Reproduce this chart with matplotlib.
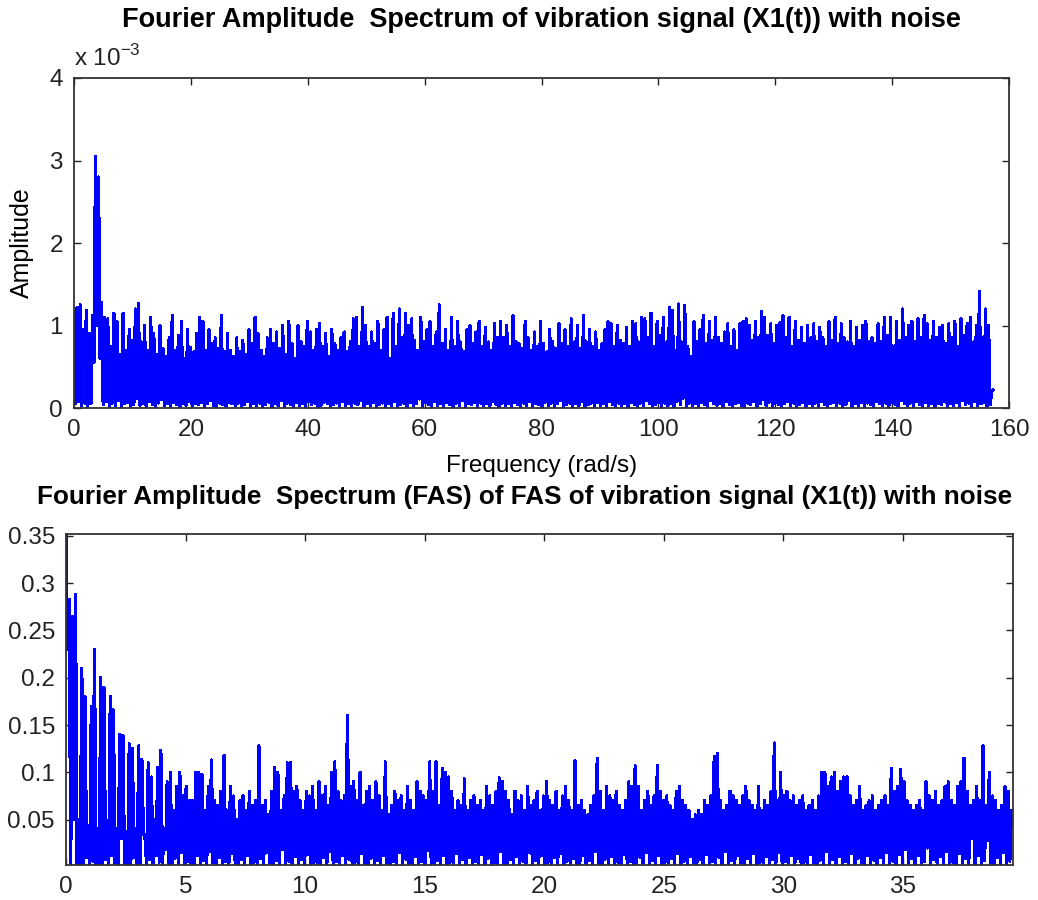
import numpy as np
import matplotlib
matplotlib.use("Agg")
import matplotlib.pyplot as plt
from matplotlib.ticker import FuncFormatter

plt.rcParams['font.family'] = ['Liberation Sans', 'DejaVu Sans']
plt.rcParams['path.simplify'] = False

# ---------- data (estimated) ----------
# top panel: FAS of the signal, spike tops and valley floors, units of 1e-3
top_fmax = 157.3
top_peaks = [
    1.15, 1.22, 1.25, 0.95, 1.18, 0.90, 1.12, 3.05, 2.80, 1.28, 1.10, 1.08, 0.75, 1.15, 1.05, 0.65, 1.15, 0.70, 0.95, 0.82,
    1.20, 1.27, 0.80, 1.00, 0.70, 1.10, 0.90, 0.65, 1.00, 0.72, 0.62, 0.85, 1.12, 0.70, 0.88, 1.05, 0.60, 0.95, 0.73, 0.68,
    0.90, 1.10, 1.05, 0.70, 0.95, 0.78, 0.85, 0.72, 1.12, 0.68, 0.90, 0.70, 0.62, 0.85, 0.68, 0.82, 0.65, 0.95, 0.78, 1.10,
    0.90, 0.70, 0.62, 0.85, 0.95, 0.78, 0.92, 0.72, 1.00, 0.65, 1.05, 0.78, 0.60, 1.00, 0.80, 0.75, 1.05, 0.92, 0.70, 0.95,
    1.02, 0.75, 0.90, 0.62, 0.95, 0.78, 0.70, 0.85, 0.92, 0.68, 0.80, 1.08, 1.10, 0.75, 1.22, 1.00, 0.75, 0.92, 0.78, 1.05,
    0.70, 0.95, 1.10, 0.60, 1.15, 0.75, 1.20, 0.85, 1.15, 1.00, 1.08, 0.82, 0.70, 1.10, 0.80, 0.95, 1.05, 0.75, 0.92, 1.25,
    0.78, 0.95, 0.70, 1.10, 0.75, 1.05, 0.80, 0.68, 0.95, 1.00, 0.78, 0.92, 1.05, 0.75, 0.98, 0.80, 0.70, 1.02, 0.85, 1.05,
    0.85, 1.00, 0.75, 1.12, 0.80, 0.78, 0.72, 1.05, 0.85, 0.70, 0.92, 0.75, 1.05, 0.78, 0.68, 0.95, 0.80, 0.72, 1.02, 0.78,
    0.95, 0.75, 1.08, 0.80, 1.00, 0.72, 1.12, 0.80, 0.95, 0.75, 0.92, 0.70, 0.78, 0.95, 1.05, 1.02, 0.75, 1.00, 0.82, 0.78,
    0.98, 0.75, 1.05, 1.02, 0.80, 1.10, 1.08, 0.85, 1.15, 0.75, 1.05, 0.88, 1.10, 0.80, 1.22, 1.18, 0.70, 1.26, 0.80, 1.24,
    0.75, 0.62, 1.05, 0.80, 0.95, 1.12, 0.78, 1.05, 0.82, 1.10, 0.85, 0.78, 0.92, 1.02, 0.75, 0.95, 0.70, 1.02, 1.05, 1.08,
    1.00, 0.82, 1.05, 0.85, 1.17, 1.10, 0.88, 1.02, 0.78, 1.00, 1.03, 1.12, 0.85, 1.10, 0.75, 1.05, 0.82, 0.98, 0.78, 1.00,
    0.85, 1.02, 0.80, 0.98, 0.85, 0.75, 1.05, 0.82, 1.10, 0.78, 1.02, 0.85, 0.80, 1.05, 0.75, 0.98, 0.82, 1.00, 1.05, 0.80,
    0.85, 0.78, 1.02, 0.80, 1.10, 0.88, 1.10, 0.75, 1.05, 0.82, 1.20, 0.85, 1.00, 1.05, 0.80, 1.08, 0.85, 1.12, 1.02, 0.82,
    1.05, 0.85, 0.98, 1.00, 0.78, 1.02, 0.85, 1.05, 0.75, 1.08, 0.88, 1.02, 1.10, 0.80, 1.00, 1.41, 0.85, 1.20, 1.00, 0.20,
]
top_floor = [
    0.05, 0.08, 0.03, 0.06, 0.02, 0.05, 0.55, 1.00, 0.60, 0.04, 0.08, 0.02, 0.06, 0.03, 0.09, 0.01, 0.05, 0.07, 0.02, 0.04,
    0.12, 0.03, 0.06, 0.02, 0.08, 0.04, 0.01, 0.06, 0.10, 0.03, 0.05, 0.02, 0.07, 0.04, 0.01, 0.06, 0.03, 0.08, 0.02, 0.05,
    0.04, 0.07, 0.02, 0.05, 0.09, 0.03, 0.01, 0.06, 0.04, 0.02, 0.07, 0.05, 0.03, 0.06, 0.01, 0.04, 0.08, 0.02, 0.05, 0.03,
    0.06, 0.02, 0.04, 0.07, 0.01, 0.05, 0.03, 0.09, 0.02, 0.06, 0.04, 0.01, 0.07, 0.03, 0.05, 0.02, 0.08, 0.04, 0.06, 0.01,
    0.03, 0.07, 0.05, 0.02, 0.04, 0.06, 0.01, 0.08, 0.03, 0.05, 0.02, 0.06, 0.04, 0.09, 0.01, 0.05, 0.03, 0.07, 0.02, 0.04,
    0.06, 0.01, 0.05, 0.03, 0.08, 0.02, 0.04, 0.06, 0.01, 0.07, 0.03, 0.05, 0.11, 0.02, 0.06, 0.04, 0.01, 0.08, 0.03, 0.05,
    0.02, 0.07, 0.04, 0.01, 0.06, 0.03, 0.09, 0.02, 0.05, 0.04, 0.07, 0.01, 0.06, 0.03, 0.05, 0.02, 0.08, 0.04, 0.01, 0.06,
    0.03, 0.05, 0.02, 0.07, 0.04, 0.01, 0.06, 0.03, 0.08, 0.02, 0.05, 0.04, 0.01, 0.07, 0.03, 0.06, 0.02, 0.05, 0.09, 0.01,
    0.04, 0.06, 0.02, 0.05, 0.03, 0.08, 0.01, 0.04, 0.06, 0.02, 0.07, 0.03, 0.05, 0.01, 0.08, 0.04, 0.02, 0.06, 0.03, 0.05,
    0.01, 0.07, 0.04, 0.02, 0.06, 0.03, 0.09, 0.05, 0.01, 0.04, 0.07, 0.02, 0.06, 0.03, 0.05, 0.01, 0.08, 0.04, 0.12, 0.02,
    0.06, 0.03, 0.05, 0.01, 0.07, 0.04, 0.02, 0.09, 0.05, 0.03, 0.06, 0.01, 0.08, 0.04, 0.02, 0.05, 0.07, 0.03, 0.01, 0.06,
    0.04, 0.08, 0.02, 0.05, 0.10, 0.03, 0.07, 0.01, 0.06, 0.04, 0.02, 0.05, 0.08, 0.03, 0.06, 0.01, 0.04, 0.07, 0.02, 0.05,
    0.03, 0.06, 0.01, 0.08, 0.04, 0.02, 0.05, 0.07, 0.03, 0.06, 0.01, 0.04, 0.09, 0.02, 0.05, 0.03, 0.07, 0.01, 0.06, 0.04,
    0.02, 0.08, 0.05, 0.03, 0.06, 0.01, 0.07, 0.04, 0.02, 0.09, 0.05, 0.03, 0.06, 0.01, 0.08, 0.04, 0.02, 0.07, 0.03, 0.05,
    0.01, 0.06, 0.04, 0.08, 0.02, 0.05, 0.03, 0.07, 0.01, 0.09, 0.04, 0.06, 0.02, 0.08, 0.03, 0.05, 0.07, 0.02, 0.04, 0.22,
]

# bottom panel: FAS of the FAS
bot_fmax = 39.6
bot_peaks = [
    0.352, 0.283, 0.265, 0.288, 0.050, 0.210, 0.180, 0.030, 0.170, 0.230, 0.040, 0.200, 0.190, 0.030, 0.180, 0.166, 0.040, 0.140, 0.139, 0.030,
    0.130, 0.125, 0.040, 0.128, 0.113, 0.030, 0.110, 0.095, 0.050, 0.105, 0.123, 0.040, 0.090, 0.100, 0.060, 0.085, 0.100, 0.075, 0.085, 0.070,
    0.070, 0.100, 0.100, 0.098, 0.060, 0.085, 0.113, 0.070, 0.065, 0.080, 0.118, 0.060, 0.085, 0.075, 0.050, 0.070, 0.075, 0.060, 0.080, 0.065,
    0.070, 0.128, 0.065, 0.070, 0.055, 0.080, 0.105, 0.100, 0.060, 0.075, 0.110, 0.110, 0.080, 0.085, 0.070, 0.060, 0.080, 0.075, 0.085, 0.060,
    0.090, 0.075, 0.085, 0.065, 0.100, 0.111, 0.080, 0.070, 0.075, 0.160, 0.085, 0.090, 0.070, 0.100, 0.065, 0.080, 0.085, 0.070, 0.090, 0.075,
    0.060, 0.111, 0.055, 0.065, 0.080, 0.070, 0.075, 0.060, 0.085, 0.070, 0.060, 0.090, 0.080, 0.075, 0.070, 0.111, 0.080, 0.111, 0.065, 0.104,
    0.100, 0.095, 0.080, 0.060, 0.070, 0.065, 0.093, 0.060, 0.070, 0.075, 0.065, 0.070, 0.060, 0.085, 0.075, 0.065, 0.080, 0.094, 0.090, 0.080,
    0.070, 0.055, 0.080, 0.070, 0.075, 0.060, 0.085, 0.065, 0.070, 0.080, 0.060, 0.075, 0.090, 0.070, 0.065, 0.080, 0.060, 0.075, 0.085, 0.070,
    0.060, 0.112, 0.065, 0.070, 0.060, 0.055, 0.065, 0.075, 0.115, 0.080, 0.060, 0.085, 0.075, 0.070, 0.080, 0.065, 0.060, 0.070, 0.090, 0.085,
    0.107, 0.085, 0.060, 0.070, 0.080, 0.065, 0.075, 0.107, 0.080, 0.070, 0.075, 0.065, 0.060, 0.080, 0.085, 0.070, 0.065, 0.060, 0.050, 0.055,
    0.060, 0.055, 0.070, 0.065, 0.075, 0.117, 0.120, 0.070, 0.060, 0.065, 0.080, 0.075, 0.070, 0.065, 0.075, 0.085, 0.070, 0.065, 0.060, 0.085,
    0.060, 0.070, 0.065, 0.080, 0.131, 0.070, 0.100, 0.075, 0.080, 0.070, 0.075, 0.065, 0.070, 0.075, 0.060, 0.065, 0.070, 0.060, 0.075, 0.100,
    0.100, 0.085, 0.095, 0.100, 0.080, 0.090, 0.095, 0.095, 0.075, 0.065, 0.070, 0.085, 0.060, 0.065, 0.070, 0.075, 0.060, 0.065, 0.070, 0.075,
    0.065, 0.104, 0.080, 0.085, 0.103, 0.090, 0.070, 0.065, 0.060, 0.065, 0.070, 0.060, 0.090, 0.075, 0.070, 0.080, 0.065, 0.070, 0.085, 0.090,
    0.070, 0.065, 0.085, 0.090, 0.115, 0.080, 0.065, 0.070, 0.085, 0.070, 0.128, 0.065, 0.100, 0.075, 0.070, 0.060, 0.065, 0.085, 0.080, 0.060,
]
bot_floor = [
    0.230, 0.004, 0.050, 0.003, 0.002, 0.002, 0.010, 0.002, 0.006, 0.002, 0.002, 0.003, 0.008, 0.002, 0.012, 0.004, 0.002, 0.030, 0.003, 0.002,
    0.002, 0.010, 0.002, 0.002, 0.035, 0.002, 0.008, 0.002, 0.012, 0.005, 0.002, 0.018, 0.004, 0.002, 0.009, 0.003, 0.015, 0.002, 0.006, 0.004,
    0.002, 0.012, 0.003, 0.007, 0.002, 0.016, 0.004, 0.002, 0.010, 0.003, 0.006, 0.002, 0.014, 0.004, 0.002, 0.008, 0.003, 0.012, 0.002, 0.005,
    0.003, 0.009, 0.002, 0.015, 0.004, 0.002, 0.007, 0.003, 0.018, 0.002, 0.006, 0.004, 0.011, 0.002, 0.008, 0.003, 0.013, 0.002, 0.005, 0.004,
    0.002, 0.010, 0.003, 0.016, 0.002, 0.006, 0.004, 0.012, 0.002, 0.008, 0.003, 0.005, 0.002, 0.014, 0.004, 0.002, 0.009, 0.003, 0.007, 0.002,
    0.012, 0.004, 0.002, 0.006, 0.003, 0.015, 0.002, 0.008, 0.004, 0.002, 0.011, 0.003, 0.006, 0.002, 0.017, 0.004, 0.002, 0.007, 0.003, 0.012,
    0.002, 0.005, 0.004, 0.014, 0.002, 0.008, 0.003, 0.010, 0.002, 0.006, 0.004, 0.013, 0.002, 0.009, 0.003, 0.005, 0.002, 0.016, 0.004, 0.002,
    0.008, 0.003, 0.011, 0.002, 0.006, 0.004, 0.015, 0.002, 0.007, 0.003, 0.012, 0.002, 0.005, 0.004, 0.010, 0.002, 0.014, 0.003, 0.006, 0.002,
    0.009, 0.004, 0.002, 0.012, 0.003, 0.007, 0.002, 0.016, 0.004, 0.002, 0.008, 0.003, 0.011, 0.002, 0.005, 0.004, 0.013, 0.002, 0.006, 0.003,
    0.002, 0.010, 0.004, 0.015, 0.002, 0.007, 0.003, 0.012, 0.002, 0.005, 0.004, 0.009, 0.002, 0.014, 0.003, 0.006, 0.002, 0.011, 0.004, 0.002,
    0.008, 0.003, 0.013, 0.002, 0.006, 0.004, 0.010, 0.002, 0.016, 0.003, 0.007, 0.002, 0.012, 0.004, 0.002, 0.009, 0.003, 0.014, 0.002, 0.005,
    0.004, 0.011, 0.002, 0.008, 0.003, 0.015, 0.002, 0.006, 0.004, 0.012, 0.002, 0.009, 0.003, 0.005, 0.002, 0.013, 0.004, 0.002, 0.007, 0.003,
    0.016, 0.002, 0.008, 0.004, 0.011, 0.002, 0.006, 0.003, 0.014, 0.002, 0.009, 0.004, 0.002, 0.012, 0.003, 0.007, 0.002, 0.010, 0.004, 0.015,
    0.002, 0.006, 0.003, 0.013, 0.002, 0.018, 0.004, 0.009, 0.002, 0.012, 0.003, 0.006, 0.020, 0.002, 0.008, 0.004, 0.011, 0.002, 0.016, 0.003,
    0.005, 0.002, 0.014, 0.004, 0.009, 0.002, 0.030, 0.003, 0.012, 0.002, 0.007, 0.028, 0.004, 0.002, 0.010, 0.003, 0.015, 0.002, 0.006, 0.050,
]


def interleave(peaks, floor, fmax):
    y = np.empty(2 * len(peaks))
    y[0::2] = peaks
    y[1::2] = floor
    x = np.linspace(0, fmax, len(y))
    return x, y


def matlab_axes(ax):
    ax.tick_params(direction='in', top=True, right=True, length=5, width=1,
                   labelsize=17.5, colors='#222222', pad=8)
    for s in ax.spines.values():
        s.set_linewidth(1.3)
        s.set_color('#333333')


fig = plt.figure(figsize=(10.38, 9.0), dpi=100)

# ---- top panel ----
ax1 = fig.add_axes([74 / 1038, 1 - 408 / 900, 935 / 1038, 330 / 900])
x1, y1 = interleave(top_peaks, top_floor, top_fmax)
ax1.plot(x1, y1 * 1e-3, color='#0000ff', linewidth=1.6, antialiased=False)
ax1.set_xlim(0, 160)
ax1.set_ylim(0, 4e-3)
ax1.set_xticks(np.arange(0, 161, 20))
ax1.set_yticks(np.arange(0, 5) * 1e-3)
ax1.yaxis.set_major_formatter(FuncFormatter(lambda v, p: '%d' % round(v * 1e3)))
matlab_axes(ax1)
ax1.set_xlabel('Frequency (rad/s)', fontsize=17.5, labelpad=10)
ax1.set_ylabel('Amplitude', fontsize=18)
ax1.yaxis.set_label_coords(-0.043, 0.5)
fig.text(74 / 1038, 1 - 58 / 900, r'x 10$^{\mathregular{-3}}$', fontsize=17.5,
         ha='left', va='center', color='#222222')
fig.text(541 / 1038, 1 - 20 / 900,
         'Fourier Amplitude  Spectrum of vibration signal (X1(t)) with noise',
         fontsize=19.5, fontweight='bold', ha='center', va='center')

# ---- bottom panel ----
ax2 = fig.add_axes([66 / 1038, 1 - 865 / 900, 947 / 1038, 331 / 900])
x2, y2 = interleave(bot_peaks, bot_floor, bot_fmax)
ax2.plot(x2, y2, color='#0000ff', linewidth=1.6, antialiased=False)
ax2.set_xlim(0, bot_fmax)
ax2.set_ylim(y2.min(), y2.max())
ax2.set_xticks(np.arange(0, 36, 5))
ax2.set_yticks([0.05, 0.1, 0.15, 0.2, 0.25, 0.3, 0.35])
ax2.yaxis.set_major_formatter(FuncFormatter(lambda v, p: ('%.2f' % v).rstrip('0')))
matlab_axes(ax2)
fig.text(525 / 1038, 1 - 497 / 900,
         'Fourier Amplitude  Spectrum (FAS) of FAS of vibration signal (X1(t)) with noise',
         fontsize=18.8, fontweight='bold', ha='center', va='center')

fig.savefig('out.png', dpi=100)
